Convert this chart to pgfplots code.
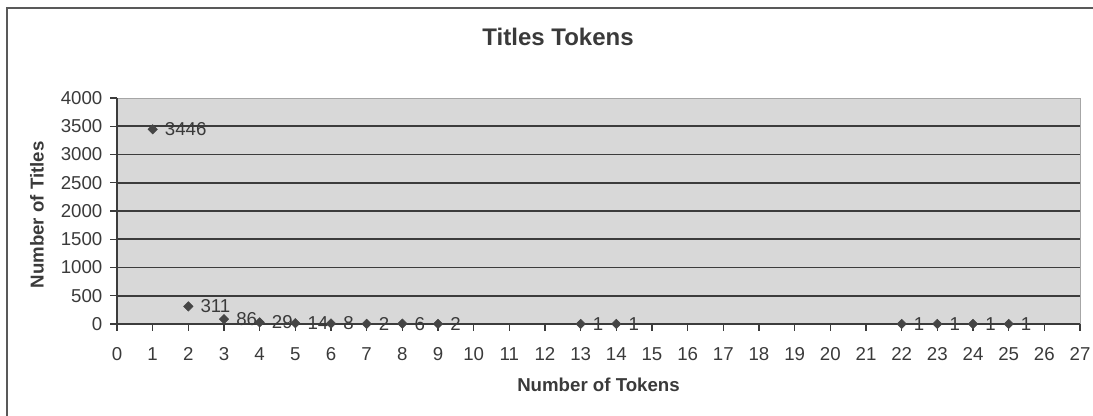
\documentclass[border=0pt]{standalone}
\usepackage{fontspec}
\setmainfont{Liberation Sans}
\usepackage{pgfplots}
\pgfplotsset{compat=1.18}
\definecolor{ink}{HTML}{3A3A3A}
\definecolor{plotbg}{HTML}{D8D8D8}
\definecolor{gridc}{HTML}{3C3C3C}
\definecolor{markc}{HTML}{454545}
\begin{document}
\begin{tikzpicture}
\useasboundingbox (0pt,0pt) rectangle (819.75pt,312pt);
\draw[line width=1.4pt, color=black!65] (5.25pt,-5pt) -- (5.25pt,306pt) -- (830pt,306pt);
\begin{axis}[
  at={(87.75pt,69pt)}, anchor=south west,
  scale only axis, width=722.25pt, height=169.5pt,
  xmin=0, xmax=27, ymin=0, ymax=4000,
  xtick={0,1,...,27}, ytick={0,500,...,4000},
  axis x line*=bottom, axis y line*=left,
  axis line style={color=gridc, line width=1pt},
  axis background/.style={fill=plotbg, draw=black!35},
  tick align=outside, major tick length=5pt,
  tick style={color=gridc, line width=0.9pt},
  extra y ticks={500,1000,...,3500}, extra y tick labels={},
  extra y tick style={grid=major, major tick length=0pt},
  grid style={color=gridc, line width=1.2pt},
  /pgf/number format/assume math mode=true,
  /pgf/number format/1000 sep={},
  ticklabel style={font=\fontsize{14}{16}\selectfont, text=ink},
  xticklabel style={yshift=-9pt},
  yticklabel style={xshift=-2.5pt},
  title={Titles Tokens},
  title style={at={(axis description cs:0.458,1.272)}, anchor=center, yshift=-6pt,
    font=\fontsize{18}{21}\selectfont\bfseries, text=ink},
  xlabel={Number of Tokens},
  xlabel style={at={(axis description cs:0.5,-0.27)}, anchor=center,
    font=\fontsize{14}{16}\selectfont\bfseries, text=ink},
  ylabel={Number of Titles},
  ylabel style={at={(axis description cs:-0.083,0.4823)}, anchor=center,
    font=\fontsize{14}{16}\selectfont\bfseries, text=ink},
  clip=false,
]
\addplot[only marks, mark=square*, mark size=2.5pt, mark options={rotate=45}, color=markc,
  nodes near coords,
  every node near coord/.style={anchor=west, inner sep=0pt, xshift=9pt,
    font=\fontsize{14}{16}\selectfont, text=ink}]
coordinates {
(1,3446) (2,311) (3,86) (4,29) (5,14) (6,8) (7,2) (8,6) (9,2)
(13,1) (14,1) (22,1) (23,1) (24,1) (25,1)
};
\end{axis}
\end{tikzpicture}
\end{document}
